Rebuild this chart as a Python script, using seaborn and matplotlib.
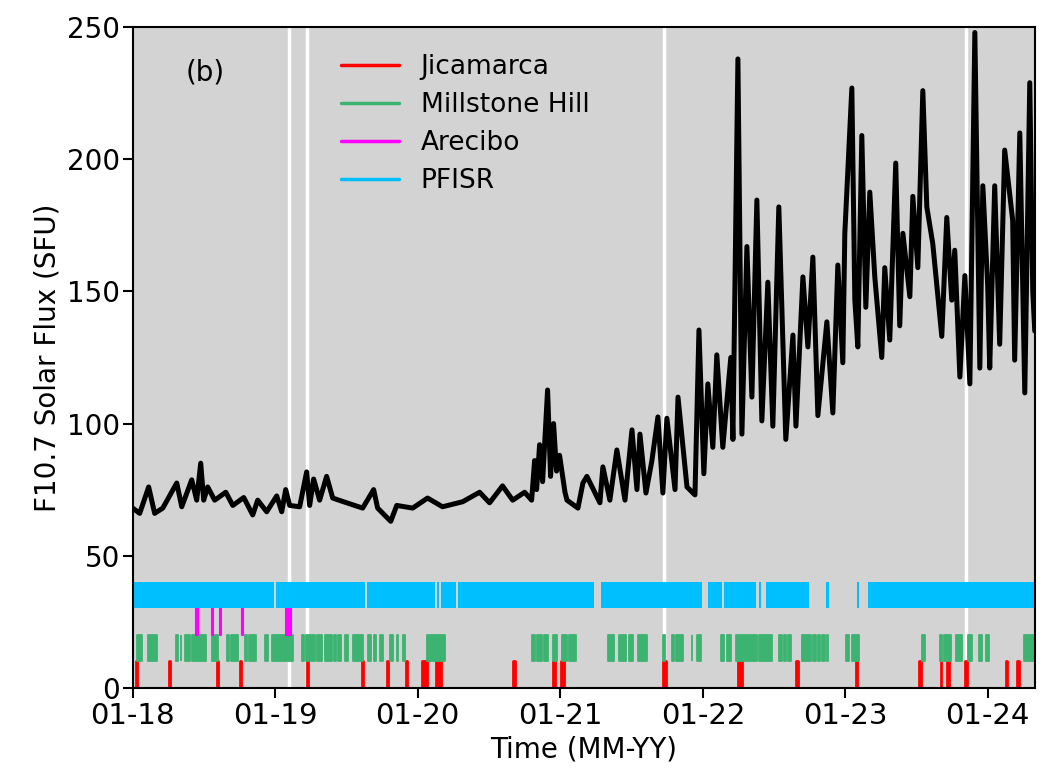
import pandas as pd
import matplotlib
matplotlib.use("Agg")
import matplotlib.pyplot as plt
import matplotlib.dates as mdates
from matplotlib.lines import Line2D
import seaborn as sns

# F10.7 solar flux, sampled at peaks/troughs (time in decimal years)
flux_time = [2018.000, 2018.049, 2018.112, 2018.154, 2018.211, 2018.309, 2018.344, 2018.414,
             2018.449, 2018.477, 2018.498, 2018.526, 2018.575, 2018.653, 2018.702, 2018.779,
             2018.842, 2018.877, 2018.940, 2019.011, 2019.046, 2019.074, 2019.102, 2019.172,
             2019.221, 2019.242, 2019.270, 2019.312, 2019.361, 2019.404, 2019.502, 2019.614,
             2019.691, 2019.719, 2019.811, 2019.853, 2019.965, 2020.070, 2020.175, 2020.316,
             2020.435, 2020.505, 2020.596, 2020.667, 2020.751, 2020.800, 2020.821, 2020.835,
             2020.856, 2020.877, 2020.912, 2020.933, 2020.954, 2020.975, 2020.996, 2021.032,
             2021.046, 2021.123, 2021.158, 2021.186, 2021.277, 2021.298, 2021.347, 2021.396,
             2021.453, 2021.502, 2021.537, 2021.558, 2021.600, 2021.642, 2021.684, 2021.719,
             2021.747, 2021.804, 2021.825, 2021.888, 2021.944, 2021.972, 2022.007, 2022.035,
             2022.070, 2022.098, 2022.140, 2022.196, 2022.211, 2022.246, 2022.274, 2022.309,
             2022.344, 2022.379, 2022.414, 2022.456, 2022.491, 2022.533, 2022.582, 2022.632,
             2022.653, 2022.702, 2022.737, 2022.772, 2022.807, 2022.870, 2022.912, 2022.947,
             2022.982, 2022.996, 2023.046, 2023.067, 2023.088, 2023.116, 2023.144, 2023.172,
             2023.207, 2023.256, 2023.277, 2023.312, 2023.354, 2023.382, 2023.404, 2023.453,
             2023.474, 2023.509, 2023.544, 2023.572, 2023.614, 2023.677, 2023.712, 2023.747,
             2023.768, 2023.804, 2023.839, 2023.874, 2023.909, 2023.944, 2023.965, 2024.000,
             2024.014, 2024.049, 2024.084, 2024.119, 2024.175, 2024.189, 2024.225, 2024.260,
             2024.295, 2024.316, 2024.330]
flux_sfu = [68, 66, 76, 66, 68, 77.5, 68.5, 78.7,
            71, 85, 71, 76, 71, 74, 69, 72,
            65.4, 71, 66.6, 72.6, 66.6, 75, 69, 68.5,
            81.7, 69, 79, 71, 80, 71.8, 70, 68,
            75, 68, 63, 69, 68, 71.8, 68.5, 70.4,
            74, 70, 76.4, 71, 74, 71, 86, 75,
            92, 78, 112.7, 80, 100, 82, 88, 74,
            71, 68, 77.5, 80, 70, 83.6, 71, 90,
            71, 97.6, 75, 96, 73.7, 86, 102.5, 73.7,
            102, 75, 110, 76, 73, 135.4, 81, 115,
            91, 126, 91, 125, 94, 238, 96, 167,
            110, 184.6, 101, 153.5, 99, 182, 94, 133.5,
            99, 155.5, 129, 163, 103, 138.5, 104, 160,
            123, 172, 227, 146.7, 129, 209, 144, 187.6,
            155.5, 125, 159, 131.6, 198.6, 137, 172, 148,
            186, 159, 226, 182, 168, 133, 178, 146.7,
            165.6, 117.6, 156, 115, 248, 121, 190, 152,
            121, 190, 130, 203.5, 177, 124, 210, 111.6,
            229, 150, 135]

# observation campaigns (start, end)
jicamarca = [("2018-01-10", "2018-01-12"), ("2018-04-04", "2018-04-06"), ("2018-08-05", "2018-08-07"),
             ("2018-10-02", "2018-10-06"), ("2019-03-23", "2019-03-26"), ("2019-08-11", "2019-08-13"),
             ("2019-10-14", "2019-10-16"), ("2019-12-03", "2019-12-04"), ("2020-01-12", "2020-01-26"),
             ("2020-02-16", "2020-03-01"), ("2020-09-01", "2020-09-06"), ("2020-12-12", "2020-12-17"),
             ("2021-01-02", "2021-01-11"), ("2021-09-21", "2021-09-28"), ("2022-04-01", "2022-04-12"),
             ("2022-08-28", "2022-09-02"), ("2023-01-29", "2023-01-31"), ("2023-07-09", "2023-07-13"),
             ("2023-09-03", "2023-09-04"), ("2023-09-19", "2023-09-23"), ("2023-11-05", "2023-11-08"),
             ("2024-02-16", "2024-02-19"), ("2024-03-17", "2024-03-21")]
millstone = [("2018-01-13", "2018-01-24"), ("2018-02-08", "2018-03-03"), ("2018-04-23", "2018-04-26"),
             ("2018-05-04", "2018-05-06"), ("2018-05-14", "2018-05-19"), ("2018-05-22", "2018-05-29"),
             ("2018-06-03", "2018-07-07"), ("2018-07-22", "2018-08-07"), ("2018-08-30", "2018-09-06"),
             ("2018-09-11", "2018-09-27"), ("2018-10-15", "2018-10-20"), ("2018-10-27", "2018-11-14"),
             ("2018-12-05", "2018-12-13"), ("2018-12-25", "2019-02-15"), ("2019-03-12", "2019-03-17"),
             ("2019-03-22", "2019-03-25"), ("2019-03-30", "2019-04-12"), ("2019-04-17", "2019-04-30"),
             ("2019-05-08", "2019-05-26"), ("2019-06-02", "2019-06-07"), ("2019-06-12", "2019-06-20"),
             ("2019-06-28", "2019-07-06"), ("2019-07-19", "2019-08-14"), ("2019-08-27", "2019-09-04"),
             ("2019-09-12", "2019-09-17"), ("2019-09-27", "2019-10-05"), ("2019-10-23", "2019-10-31"),
             ("2019-11-08", "2019-11-13"), ("2019-11-24", "2019-12-01"), ("2020-01-26", "2020-03-10"),
             ("2020-10-19", "2020-10-27"), ("2020-11-01", "2020-11-16"), ("2020-11-21", "2020-11-29"),
             ("2020-12-12", "2020-12-22"), ("2021-01-06", "2021-01-19"), ("2021-01-24", "2021-02-11"),
             ("2021-05-04", "2021-05-19"), ("2021-06-01", "2021-06-06"), ("2021-06-09", "2021-06-19"),
             ("2021-06-27", "2021-07-07"), ("2021-07-18", "2021-08-12"), ("2021-09-22", "2021-09-27"),
             ("2021-10-13", "2021-10-18"), ("2021-10-25", "2021-11-10"), ("2021-12-03", "2021-12-05"),
             ("2021-12-18", "2021-12-26"), ("2022-02-17", "2022-02-24"), ("2022-03-04", "2022-03-14"),
             ("2022-03-27", "2022-04-09"), ("2022-04-12", "2022-05-05"), ("2022-05-07", "2022-05-20"),
             ("2022-05-25", "2022-06-28"), ("2022-07-14", "2022-07-24"), ("2022-07-29", "2022-08-03"),
             ("2022-08-08", "2022-08-16"), ("2022-09-13", "2022-09-23"), ("2022-09-26", "2022-10-06"),
             ("2022-10-11", "2022-10-19"), ("2022-10-24", "2022-10-29"), ("2022-11-03", "2022-11-11"),
             ("2022-11-16", "2022-11-18"), ("2023-01-03", "2023-01-11"), ("2023-01-19", "2023-02-06"),
             ("2023-07-16", "2023-07-24"), ("2023-09-01", "2023-09-06"), ("2023-09-11", "2023-09-29"),
             ("2023-10-12", "2023-10-27"), ("2023-11-11", "2023-11-22"), ("2023-12-10", "2023-12-17"),
             ("2023-12-28", "2024-01-05"), ("2024-04-03", "2024-04-30")]
arecibo = [("2018-06-12", "2018-06-18"), ("2018-07-24", "2018-07-25"), ("2018-08-13", "2018-08-14"),
           ("2018-10-07", "2018-10-11"), ("2019-01-30", "2019-02-10")]
pfisr = [("2018-01-01", "2018-12-28"), ("2019-01-02", "2019-08-20"), ("2019-08-25", "2020-02-15"),
         ("2020-02-20", "2020-02-25"), ("2020-03-01", "2020-04-09"), ("2020-04-14", "2021-03-27"),
         ("2021-04-14", "2021-12-31"), ("2022-01-13", "2022-02-18"), ("2022-02-23", "2022-05-18"),
         ("2022-05-24", "2022-05-31"), ("2022-06-13", "2022-09-30"), ("2022-11-13", "2022-11-20"),
         ("2023-02-01", "2023-02-06"), ("2023-02-27", "2024-04-30")]

# days highlighted with white lines
marked_days = ["2019-02-05", "2019-03-24", "2021-09-24", "2023-11-06"]

instruments = ["Jicamarca", "Millstone Hill", "Arecibo", "PFISR"]
colors = ["#ff0000", "#3cb371", "#ff00ff", "#00bfff"]


def decyear_to_date(y):
    year = int(y)
    return pd.Timestamp(year=year, month=1, day=1) + pd.Timedelta(days=(y - year) * 365.25)


df = pd.DataFrame({"time": [decyear_to_date(t) for t in flux_time], "flux": flux_sfu})

sns.set_style("ticks", {"axes.facecolor": "#d3d3d3", "axes.edgecolor": "black",
                        "text.color": "black", "axes.labelcolor": "black",
                        "xtick.color": "black", "ytick.color": "black"})
plt.rcParams["font.family"] = ["DejaVu Sans"]

fig, ax = plt.subplots(figsize=(10.45, 7.78), dpi=100)
fig.subplots_adjust(left=0.127, right=0.990, top=0.965, bottom=0.116)

for d in marked_days:
    ax.axvline(pd.Timestamp(d), color="white", lw=2.5, zorder=1)

campaigns = [jicamarca, millstone, arecibo, pfisr]
edges = [2.0, 1.3, 1.5, 0]
for i, (spans, c, edge) in enumerate(zip(campaigns, colors, edges)):
    bars = []
    for a, b in spans:
        start = mdates.date2num(pd.Timestamp(a))
        width = max((pd.Timestamp(b) - pd.Timestamp(a)).days, 1)
        bars.append((start, width))
    ax.broken_barh(bars, (i * 10, 10), facecolors=c,
                   edgecolors=c if edge else "none", linewidth=edge, zorder=2)

sns.lineplot(data=df, x="time", y="flux", color="black", lw=3.6, ax=ax, zorder=3)

ax.set_xlim(pd.Timestamp("2018-01-01"), pd.Timestamp("2024-04-30"))
ax.set_ylim(0, 250)
ax.set_yticks(range(0, 251, 50))
ax.xaxis.set_major_locator(mdates.YearLocator())
ax.xaxis.set_major_formatter(mdates.DateFormatter("%m-%y"))
ax.tick_params(labelsize=20, length=7, width=1.5, direction="out", color="black", labelcolor="black")
ax.tick_params(axis="x", labelsize=21)
ax.tick_params(axis="y", pad=2)
for s in ax.spines.values():
    s.set_linewidth(1.5)
    s.set_color("black")

ax.set_xlabel("Time (MM-YY)", fontsize=20)
ax.set_ylabel("F10.7 Solar Flux (SFU)", fontsize=20)
ax.text(0.08, 0.932, "(b)", transform=ax.transAxes, fontsize=20, ha="center", va="center")

handles = [Line2D([], [], color=c, lw=2.5) for c in colors]
ax.legend(handles, instruments, loc="upper left", bbox_to_anchor=(0.205, 0.995),
          frameon=False, fontsize=19, handlelength=2.2, handletextpad=0.8, labelspacing=0.45)

fig.savefig("out.png", dpi=100)
